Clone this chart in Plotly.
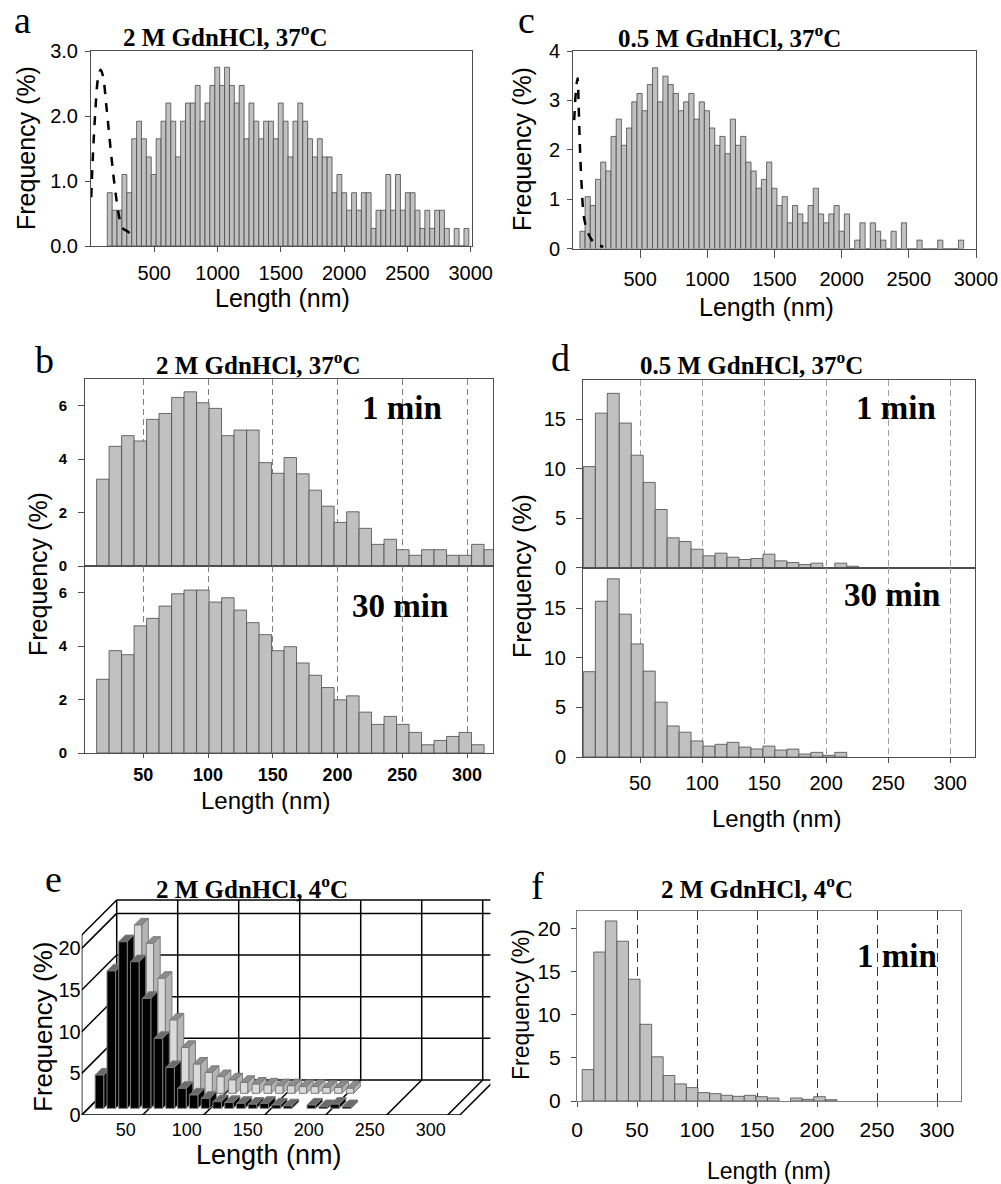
import plotly.graph_objects as go

W, H = 1001, 1184

# ---------------- data ----------------
# panels a / c : long fibrils, bin centres (nm)
a_len = [148.0, 186.6, 225.2, 263.8, 302.4, 341.0, 379.6, 418.2, 456.8, 495.4,
         534.0, 572.6, 611.2, 649.8, 688.4, 727.0, 765.6, 804.2, 842.8, 881.4,
         920.0, 958.6, 997.2, 1035.8, 1074.4, 1113.0, 1151.6, 1190.2, 1228.8, 1267.4,
         1306.0, 1344.6, 1383.2, 1421.8, 1460.4, 1499.0, 1537.6, 1576.2, 1614.8, 1653.4,
         1692.0, 1730.6, 1769.2, 1807.8, 1846.4, 1885.0, 1923.6, 1962.2, 2000.8, 2039.4,
         2078.0, 2116.6, 2155.2, 2193.8, 2232.4, 2271.0, 2309.6, 2348.2, 2386.8, 2425.4,
         2464.0, 2502.6, 2541.2, 2579.8, 2618.4, 2657.0, 2695.6, 2734.2, 2772.8, 2811.4,
         2850.0, 2888.6, 2927.2, 2965.8]
a_freq = [0.82, 0.55, 0.55, 1.10, 0.82, 1.65, 1.92, 1.65, 1.37, 1.10,
          1.65, 1.92, 2.20, 1.92, 1.37, 1.92, 2.20, 2.20, 2.47, 1.92,
          2.20, 2.47, 2.75, 2.47, 2.75, 2.47, 2.20, 2.47, 1.65, 2.20,
          1.92, 1.65, 1.92, 1.92, 1.65, 2.20, 1.92, 1.37, 1.92, 2.20,
          1.92, 1.65, 1.37, 1.65, 1.37, 1.37, 0.82, 1.10, 0.82, 0.55,
          0.82, 0.55, 0.82, 0.82, 0.27, 0.55, 0.55, 1.10, 0.55, 1.10,
          0.55, 0.82, 0.82, 0.55, 0.27, 0.55, 0.27, 0.55, 0.55, 0.27,
          0.00, 0.27, 0.00, 0.27]
a_curve_len = [2, 15, 34, 55, 76, 94, 121, 147, 174, 200, 226, 253, 292, 332]
a_curve_freq = [0.75, 1.39, 2.06, 2.57, 2.71, 2.62, 2.16, 1.65, 1.14, 0.73, 0.42, 0.27, 0.22, 0.14]

c_len = [70.8, 109.4, 148.0, 186.6, 225.2, 263.8, 302.4, 341.0, 379.6, 418.2,
         456.8, 495.4, 534.0, 572.6, 611.2, 649.8, 688.4, 727.0, 765.6, 804.2,
         842.8, 881.4, 920.0, 958.6, 997.2, 1035.8, 1074.4, 1113.0, 1151.6, 1190.2,
         1228.8, 1267.4, 1306.0, 1344.6, 1383.2, 1421.8, 1460.4, 1499.0, 1537.6, 1576.2,
         1614.8, 1653.4, 1692.0, 1730.6, 1769.2, 1807.8, 1846.4, 1885.0, 1923.6, 1962.2,
         2000.8, 2039.4, 2078.0, 2116.6, 2155.2, 2193.8, 2232.4, 2271.0, 2309.6, 2348.2,
         2386.8, 2425.4, 2464.0, 2502.6, 2541.2, 2579.8, 2618.4, 2657.0, 2695.6, 2734.2,
         2772.8, 2811.4, 2850.0, 2888.6]
c_freq = [0.35, 1.05, 0.87, 1.40, 1.75, 1.57, 2.27, 2.62, 2.09, 2.44,
          2.97, 3.14, 2.79, 3.32, 3.66, 2.97, 3.49, 3.32, 3.14, 2.79,
          2.97, 3.14, 2.62, 2.97, 2.79, 2.44, 2.09, 2.27, 1.92, 2.62,
          2.09, 2.27, 1.75, 1.57, 1.22, 1.40, 1.75, 1.22,
          0.87, 1.05, 0.52, 0.87, 0.70, 0.52, 0.87, 1.22, 0.70, 0.52,
          0.70, 0.87, 0.35, 0.70, 0.00, 0.17, 0.52, 0.00, 0.52, 0.35,
          0.17, 0.00, 0.35, 0.00, 0.52, 0.00, 0.00, 0.17, 0.00, 0.00,
          0.00, 0.17, 0.00, 0.00, 0.00, 0.17]
c_curve_len = [9, 22, 34, 42, 51, 64, 83, 113, 150, 200, 225]
c_curve_freq = [2.60, 3.20, 3.45, 2.90, 2.10, 1.29, 0.61, 0.31, 0.14, 0.06, 0.03]

# panels b, d, e, f : short fragments, bin centres (nm)
short_len = [9.1, 18.8, 28.4, 38.1, 47.7, 57.4, 67.0, 76.7, 86.3, 96.0,
             105.6, 115.3, 124.9, 134.6, 144.2, 153.9, 163.5, 173.2, 182.8, 192.5,
             202.1, 211.8, 221.4, 231.1, 240.7, 250.4, 260.0, 269.7, 279.3, 289.0,
             298.6, 308.3, 317.9]
b_1min = [None, 3.25, 4.48, 4.88, 4.68, 5.49, 5.71, 6.31, 6.52, 6.11, 5.90, 4.88, 5.09,
          5.09, 3.87, 3.47, 4.06, 3.45, 2.84, 2.24, 1.63, 2.03, 1.41, 0.81, 1.00, 0.61,
          0.40, 0.61, 0.61, 0.40, 0.40, 0.81, 0.61]
b_30min = [None, 2.76, 3.83, 3.68, 4.76, 5.04, 5.50, 5.96, 6.10, 6.10, 5.65, 5.81, 5.35,
           4.88, 4.43, 3.83, 3.98, 3.37, 2.91, 2.45, 1.99, 2.14, 1.53, 1.07, 1.37, 1.07,
           0.77, 0.31, 0.47, 0.62, 0.77, 0.31]
d_1min = [10.2, 15.6, 17.6, 14.6, 11.35, 8.6, 5.86, 3.0, 2.63, 1.85, 1.18, 1.45, 1.04,
          0.81, 0.91, 1.35, 0.67, 0.50, 0.30, 0.44, None, 0.44, 0.13]
d_30min = [8.6, 15.7, 17.96, 14.4, 11.4, 8.66, 5.53, 3.13, 2.50, 1.62, 1.10, 1.28, 1.48,
           1.00, 0.81, 1.10, 0.70, 0.80, 0.30, 0.47, 0.17, 0.47]
f_1min = [3.64, 17.25, 20.85, 18.5, 14.1, 8.88, 5.12, 2.95, 1.98, 1.55, 0.97, 0.85, 0.66,
          0.54, 0.66, 0.50, 0.35, None, 0.35, 0.19, 0.50, 0.15]
e_front = [4.0, 16.5, 20.0, 17.6, 13.2, 8.4, 4.9, 2.4, 1.6, 1.2, 0.8, 0.7, 0.6, 0.5,
           0.6, 0.4, 0.3, 0.0, 0.4, 0.2, 0.5, 0.2]
e_back = [4.0, 16.0, 20.2, 18.0, 13.8, 8.8, 5.5, 3.5, 2.5, 2.0, 1.6, 1.3, 1.1, 1.0,
          0.9, 0.9, 0.8, 0.8, 0.7, 0.7, 0.6]

long_ticks = [500, 1000, 1500, 2000, 2500, 3000]
short_ticks = [50, 100, 150, 200, 250, 300]

# ---------------- style helpers ----------------
SANS = "Liberation Sans, Arial, sans-serif"
SERIF = "Liberation Serif, Times New Roman, serif"
LINE = "#4f4f4f"
BAR = dict(color="#c0c0c0", line=dict(color="#4a4a4a", width=0.8))


def xd(a, b):
    return [a / W, b / W]


def yd(top, bot):
    return [1 - bot / H, 1 - top / H]


def ax(**kw):
    d = dict(showline=True, linecolor=LINE, linewidth=1, mirror=True, zeroline=False,
             showgrid=False, ticks="outside", ticklen=5, tickcolor=LINE,
             tickfont=dict(family=SANS, size=20, color="black"))
    d.update(kw)
    return d


fig = go.Figure()

# ---- a ----
fig.add_trace(go.Bar(x=a_len, y=a_freq, width=38.6, marker=BAR, xaxis="x", yaxis="y"))
fig.add_trace(go.Scatter(x=a_curve_len, y=a_curve_freq, mode="lines", line_shape="spline",
                         line=dict(color="black", width=2.5, dash="dash"), xaxis="x", yaxis="y"))
# ---- c ----
fig.add_trace(go.Bar(x=c_len, y=c_freq, width=38.6, marker=BAR, xaxis="x2", yaxis="y2"))
fig.add_trace(go.Scatter(x=c_curve_len, y=c_curve_freq, mode="lines", line_shape="spline",
                         line=dict(color="black", width=2.5, dash="dash"), xaxis="x2", yaxis="y2"))
# ---- b ----
fig.add_trace(go.Bar(x=short_len[:len(b_1min)], y=b_1min, width=9.65, marker=BAR, xaxis="x3", yaxis="y3"))
fig.add_trace(go.Bar(x=short_len[:len(b_30min)], y=b_30min, width=9.65, marker=BAR, xaxis="x4", yaxis="y4"))
# ---- d ----
fig.add_trace(go.Bar(x=short_len[:len(d_1min)], y=d_1min, width=9.65, marker=BAR, xaxis="x5", yaxis="y5"))
fig.add_trace(go.Bar(x=short_len[:len(d_30min)], y=d_30min, width=9.65, marker=BAR, xaxis="x6", yaxis="y6"))
# ---- f ----
fig.add_trace(go.Bar(x=short_len[:len(f_1min)], y=f_1min, width=9.65, marker=BAR, xaxis="x7", yaxis="y7"))

# ---- e : pseudo 3-D bar chart (oblique projection) ----
DEPTH_X, DEPTH_Y = 28.7, 4.2
E_XMAX, E_ZMAX = 310, 21.6


def proj(x, f, p):
    return x + p * DEPTH_X, f + p * DEPTH_Y


wx, wy = [], []


def seg(pa, pb):
    wx.extend([pa[0], pb[0], None])
    wy.extend([pa[1], pb[1], None])


for fv in [0, 5, 10, 15, 20, E_ZMAX]:
    seg(proj(0, fv, 1), proj(E_XMAX, fv, 1))
    seg(proj(0, fv, 0), proj(0, fv, 1))
for xv in short_ticks + [0, E_XMAX]:
    seg(proj(xv, 0, 1), proj(xv, E_ZMAX, 1))
    seg(proj(xv, 0, -0.12 if 0 < xv < E_XMAX else 0), proj(xv, 0, 1))
seg(proj(0, 0, 0), proj(E_XMAX, 0, 0))
seg(proj(0, 0, 0), proj(0, E_ZMAX, 0))
fig.add_trace(go.Scatter(x=wx, y=wy, mode="lines", line=dict(color="black", width=1.5),
                         xaxis="x8", yaxis="y8"))


def box_faces(centres, heights, p0, p1, half):
    faces = {"side": ([], []), "top": ([], []), "front": ([], [])}
    for c, h in zip(centres, heights):
        if not h:
            continue
        xl, xr = c - half, c + half
        polys = {
            "side": [(xr, 0, p0), (xr, 0, p1), (xr, h, p1), (xr, h, p0)],
            "top": [(xl, h, p0), (xr, h, p0), (xr, h, p1), (xl, h, p1)],
            "front": [(xl, 0, p0), (xr, 0, p0), (xr, h, p0), (xl, h, p0)],
        }
        for k, pts in polys.items():
            xs, ys = faces[k]
            for pt in pts + [pts[0]]:
                X, Y = proj(*pt)
                xs.append(X)
                ys.append(Y)
            xs.append(None)
            ys.append(None)
    return faces


rows = [
    (e_back, 0.62, 0.81, 3.0, {"side": "#b4b4b4", "top": "#8c8c8c", "front": "#dadada"}),
    (e_front, 0.19, 0.38, 3.5, {"side": "#000000", "top": "#6a6a6a", "front": "#000000"}),
]
for vals, p0, p1, half, cols in rows:
    faces = box_faces(short_len[:len(vals)], vals, p0, p1, half)
    for k in ["side", "top", "front"]:
        xs, ys = faces[k]
        fig.add_trace(go.Scatter(x=xs, y=ys, mode="lines", fill="toself", fillcolor=cols[k],
                                 line=dict(color="#7a7a7a", width=1), xaxis="x8", yaxis="y8"))

# ---------------- layout ----------------
b_x = dict(domain=xd(85, 493), range=[5, 320], tickvals=short_ticks, showgrid=True,
           gridcolor="#808080", griddash="6px,4px", gridwidth=1)
d_x = dict(domain=xd(583, 975), range=[4, 320], tickvals=short_ticks, showgrid=True,
           gridcolor="#a0a0a0", griddash="6px,4px", gridwidth=1)
boldtick = dict(family=SANS, size=15, color="black", weight="bold")

fig.update_layout(
    width=W, height=H, margin=dict(l=0, r=0, t=0, b=0, pad=0, autoexpand=False),
    paper_bgcolor="white", plot_bgcolor="rgba(0,0,0,0)", showlegend=False, barmode="overlay",
    # a
    xaxis=ax(domain=xd(91, 472), range=[0, 3010], tickvals=long_ticks, anchor="y",
             ticklabelstandoff=4),
    yaxis=ax(domain=yd(51, 246), range=[0, 3.0], tickvals=[0, 1, 2, 3], tickformat=".1f",
             anchor="x", ticklabelstandoff=3),
    # c
    xaxis2=ax(domain=xd(573, 976), range=[0, 3000], tickvals=long_ticks, anchor="y2",
              ticklen=8, ticklabelstandoff=4),
    yaxis2=ax(domain=yd(51, 248.5), range=[0, 4], tickvals=[0, 1, 2, 3, 4], anchor="x2",
              ticklabelstandoff=3),
    # b
    xaxis3=ax(**b_x, anchor="y3", showticklabels=False, ticks=""),
    yaxis3=ax(domain=yd(379, 566), range=[0, 7], tickvals=[0, 2, 4, 6], anchor="x3",
              ticklen=6, tickfont=boldtick, ticklabelstandoff=8),
    xaxis4=ax(**b_x, anchor="y4", matches="x3", ticklen=4, ticklabelstandoff=1,
              tickfont=dict(family=SANS, size=18, color="black", weight="bold")),
    yaxis4=ax(domain=yd(566, 753), range=[0, 7], tickvals=[0, 2, 4, 6], anchor="x4",
              ticklen=6, tickfont=boldtick, ticklabelstandoff=8),
    # d
    xaxis5=ax(**d_x, anchor="y5", showticklabels=False, ticks=""),
    yaxis5=ax(domain=yd(379.5, 567.5), range=[0, 19], tickvals=[0, 5, 10, 15], anchor="x5",
              ticklen=6, ticklabelstandoff=6, zeroline=True, zerolinecolor="black",
              zerolinewidth=2),
    xaxis6=ax(**d_x, anchor="y6", matches="x5", ticklen=5, ticklabelstandoff=3),
    yaxis6=ax(domain=yd(567.5, 757), range=[0, 19.1], tickvals=[0, 5, 10, 15], anchor="x6",
              ticklen=6, ticklabelstandoff=6),
    # f
    xaxis7=ax(domain=xd(577, 961), range=[0, 320], tickvals=[0] + short_ticks, anchor="y7",
              linecolor="#808080", showgrid=True, gridcolor="#333333", griddash="9px,5px",
              gridwidth=1, ticklabelstandoff=5, tickfont=dict(family=SANS, size=21, color="black")),
    yaxis7=ax(domain=yd(911, 1101), range=[0, 22], tickvals=[0, 5, 10, 15, 20], anchor="x7",
              linecolor="#808080", ticklabelstandoff=6,
              tickfont=dict(family=SANS, size=21, color="black")),
    # e
    xaxis8=dict(domain=xd(81.7, 490.4), range=[0, 335], tickvals=short_ticks, anchor="y8",
                showline=False, showgrid=False, zeroline=False, ticks="",
                ticklabelshift=-17, ticklabelstandoff=2,
                tickfont=dict(family=SANS, size=18, color="black")),
    yaxis8=dict(domain=yd(898.4, 1115), range=[0, 26], tickvals=[0, 5, 10, 15, 20], anchor="x8",
                showline=False, showgrid=False, zeroline=False, ticks="",
                ticklabelstandoff=0, tickfont=dict(family=SANS, size=20, color="black")),
)


def ann(text, x, y, size, family=SANS, angle=0):
    fig.add_annotation(text=text, x=x / W, y=1 - y / H, xref="paper", yref="paper",
                       xanchor="center", yanchor="middle", showarrow=False, textangle=angle,
                       font=dict(family=family, size=size, color="black"))


# panel letters
for letter, x, y in [("a", 22, 20), ("c", 526, 20), ("b", 44, 360), ("d", 560, 358),
                     ("e", 53, 879), ("f", 537, 886)]:
    ann(letter, x, y, 38, SERIF)

# panel titles
ann("<b>2 M GdnHCl, 37<sup>o</sup>C</b>", 225, 35, 25, SERIF)
ann("<b>0.5 M GdnHCl, 37<sup>o</sup>C</b>", 729, 36, 25, SERIF)
ann("<b>2 M GdnHCl, 37<sup>o</sup>C</b>", 258, 363, 25, SERIF)
ann("<b>0.5 M GdnHCl, 37<sup>o</sup>C</b>", 751, 363, 25, SERIF)
ann("<b>2 M GdnHCl, 4<sup>o</sup>C</b>", 252, 887, 25, SERIF)
ann("<b>2 M GdnHCl, 4<sup>o</sup>C</b>", 757, 887, 25, SERIF)

# time labels
ann("<b>1 min</b>", 402, 408, 33, SERIF)
ann("<b>30 min</b>", 400, 606, 33, SERIF)
ann("<b>1 min</b>", 896, 408, 33, SERIF)
ann("<b>30 min</b>", 892, 595, 33, SERIF)
ann("<b>1 min</b>", 897, 956, 33, SERIF)

# axis titles
for x, y, s in [(26, 148, 25), (522, 149, 25), (38, 574, 25), (522, 576, 25),
                (43, 1027, 26), (521, 1005, 23)]:
    ann("Frequency (%)", x, y, s, angle=-90)
for x, y, s in [(282, 298, 25), (766, 307, 25), (265, 800, 24), (776, 818, 24),
                (269, 1155, 27), (769, 1171, 23)]:
    ann("Length (nm)", x, y, s)

fig.write_html("out.html", config={"displayModeBar": False},
               post_script="document.body.style.margin='0';document.body.style.overflow='hidden';")
